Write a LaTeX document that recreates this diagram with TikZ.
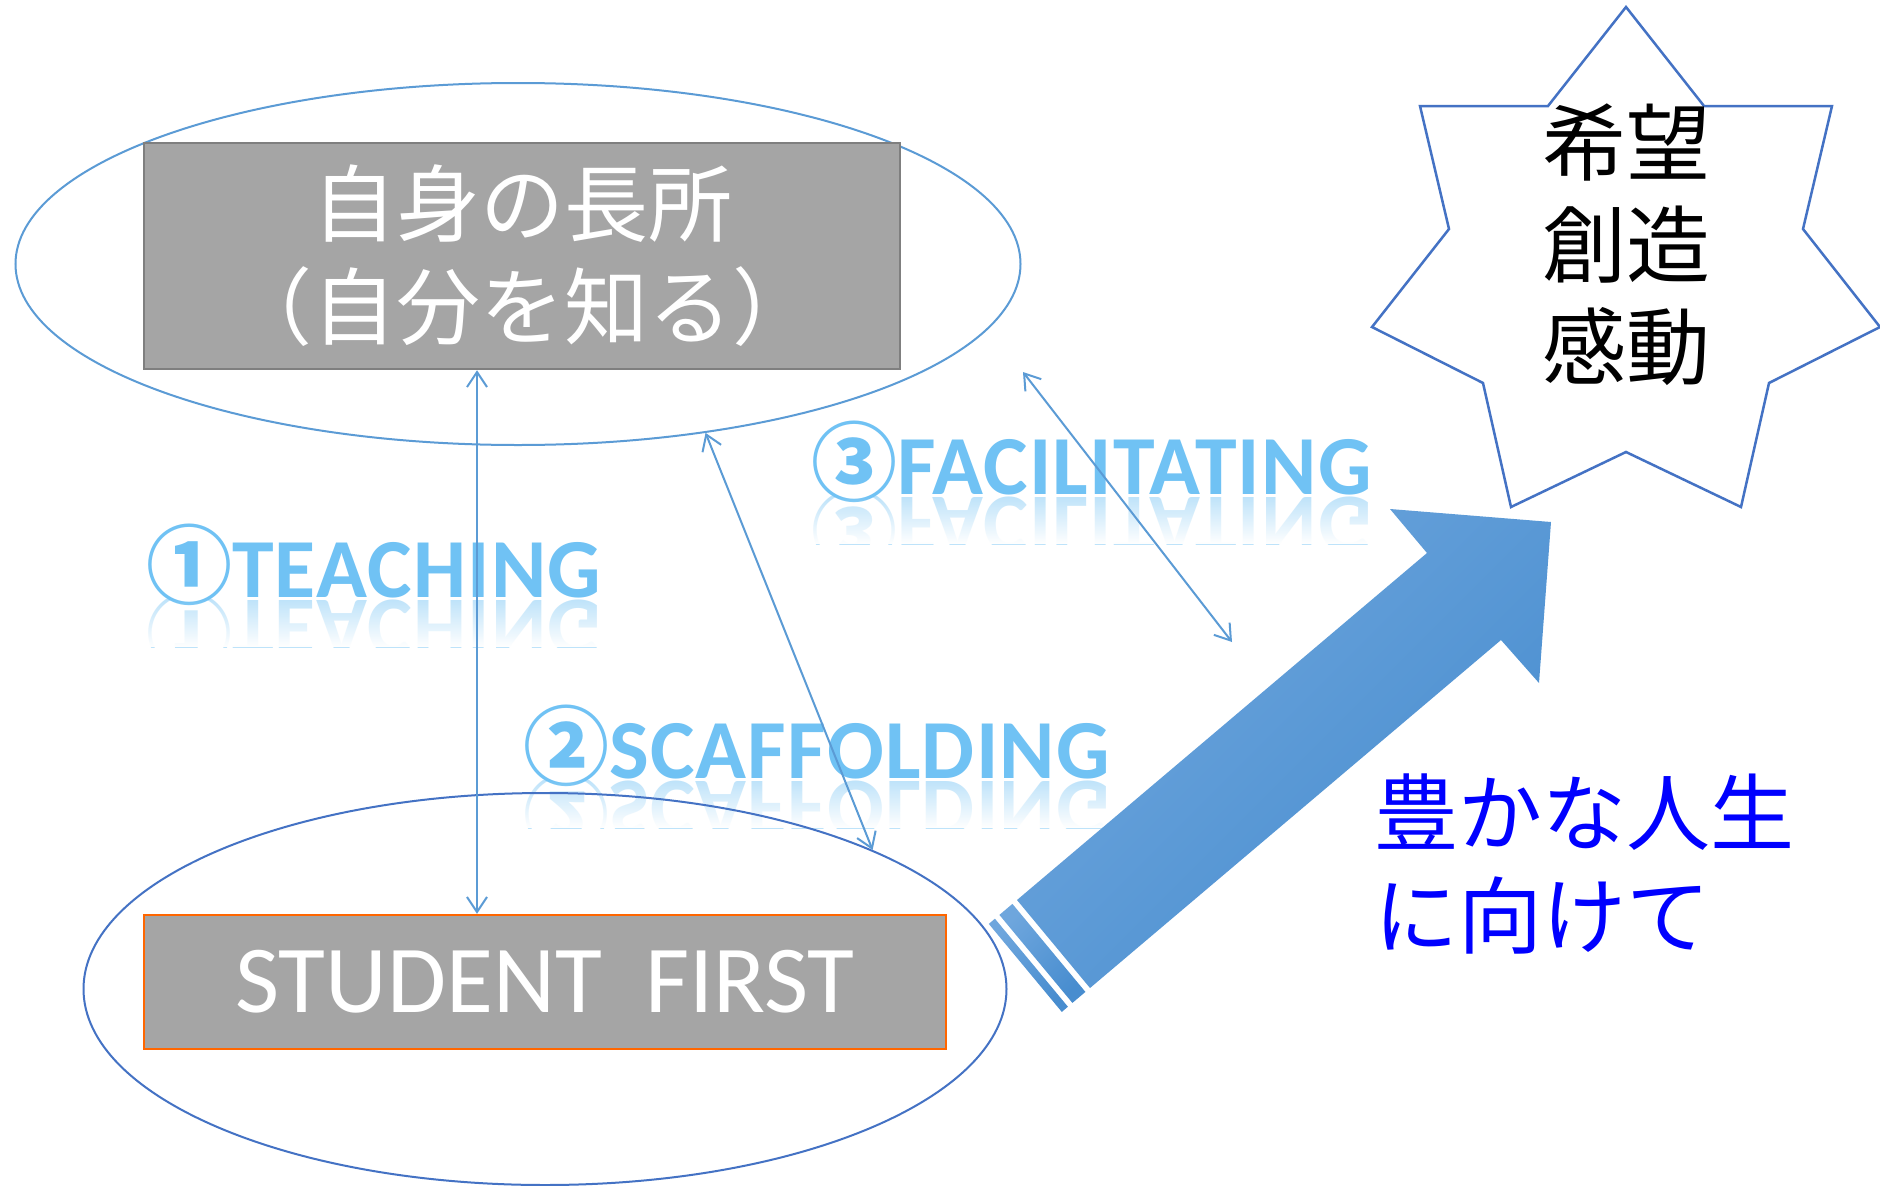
\documentclass[tikz,border=0pt]{standalone}
\usepackage{fontspec}
\setmainfont{Carlito}
\newfontfamily\jp{Noto Sans CJK JP}
\usetikzlibrary{shapes.geometric, arrows.meta, fadings, calc}
\definecolor{lineblue}{RGB}{91,155,213}
\definecolor{darkblue}{RGB}{68,114,196}
\definecolor{boxgray}{RGB}{165,165,165}
\definecolor{boxborder}{RGB}{127,127,127}
\definecolor{orangeb}{RGB}{255,102,0}
\definecolor{wafill}{RGB}{112,194,244}
\definecolor{arrowlight}{RGB}{110,166,221}
\definecolor{arrowdark}{RGB}{72,141,207}
\definecolor{richblue}{RGB}{0,0,255}
\tikzfading[name=fadedown, top color=transparent!100, bottom color=transparent!0]
\newcommand\wordart[4]{%
  \node[wa] (#1) at (#2,#3) {#4};
  \begin{scope}
    \clip (#2-10,#3+2) rectangle (#2+640,#3+50);
    \node[wa, opacity=.45, yscale=-1, transform shape] (#1r) at (#2,#3+3) {#4};
    \fill[white, path fading=fadedown] (#2-10,#3+2) rectangle (#2+640,#3+50);
  \end{scope}
}
\newcommand\circnum[1]{{\jp\fontsize{86}{86}\selectfont #1}}
\begin{document}
\begin{tikzpicture}[x=1pt, y=-1pt,
  wa/.style={font=\bfseries\fontsize{84}{84}\selectfont\addfontfeature{LetterSpace=1.5}, text=wafill, inner sep=0, anchor=base west},
  conn/.style={draw=lineblue, line width=2pt,
    {Straight Barb[length=15pt,width=20pt]}-{Straight Barb[length=15pt,width=20pt]}},
  grad/.style={top color=arrowlight, bottom color=arrowdark, shading angle=45},
  jptext/.style={font=\jp\fontsize{84}{103}\selectfont, inner sep=0}
]
\useasboundingbox (0,0) rectangle (1880,1186);
\fill[white] (0,0) rectangle (1880,1186);

% word art labels
\wordart{teach}{146}{597}{\circnum{①}TEACHING}
\wordart{scaf}{523}{778}{\circnum{②}SCAFFOLDING}
\wordart{faci}{811}{494}{\circnum{③}FACILITATING}

% ellipses
\node[ellipse, draw=lineblue, line width=2pt, minimum width=1005pt, minimum height=362pt, inner sep=0] (topell) at (518,264) {};
\node[ellipse, draw=darkblue, line width=2pt, minimum width=923pt, minimum height=392pt, inner sep=0] (botell) at (545,989) {};

% boxes
\node[jptext, draw=boxborder, fill=boxgray, line width=2.5pt, minimum width=756pt, minimum height=226pt, text=white, align=center] (topbox) at (522,256) {自身の長所\\（自分を知る）};
\node[draw=orangeb, fill=boxgray, line width=2.5pt, minimum width=802pt, minimum height=134pt, inner sep=0, text=white, font=\fontsize{96}{96}\selectfont] (botbox) at (545,982) {STUDENT\ \ FIRST};

% star
\draw[darkblue, line width=2.5pt] (1626,7) -- (1704,106) -- (1832,106) -- (1803,229) -- (1880,327) -- (1769,383) -- (1741,507) -- (1626,452) -- (1511,507) -- (1483,383) -- (1372,327) -- (1449,229) -- (1420,106) -- (1548,106) -- cycle;
\node[font=\jp\fontsize{84}{102}\selectfont, align=center, inner sep=0] (startxt) at (1626,245) {希望\\創造\\感動};

% big arrow
\shade[grad] (1017,900) -- (1427,553) -- (1390,509) -- (1551,522) -- (1539,683) -- (1501,640) -- (1090,988) -- cycle;
\shade[grad] (1012.4,903.9) -- (999.4,914.9) -- (1072.4,1002.9) -- (1085.4,991.9) -- cycle;
\shade[grad] (994.9,918.7) -- (988.8,923.9) -- (1061.8,1011.9) -- (1067.9,1006.7) -- cycle;

% blue text
\node[jptext, text=richblue, align=left, anchor=west] (rich) at (1374,864) {豊かな人生\\に向けて};

% connectors
\coordinate (vx) at (477,0);
\coordinate (f1) at (1023,372);
\coordinate (f2) at (1232,642);
\draw[conn] (topbox.south -| vx) -- (botbox.north -| vx);
\draw[conn] (topell.-42.4) -- (botell.23);
\draw[conn] (f1) -- (f2);
\end{tikzpicture}
\end{document}
